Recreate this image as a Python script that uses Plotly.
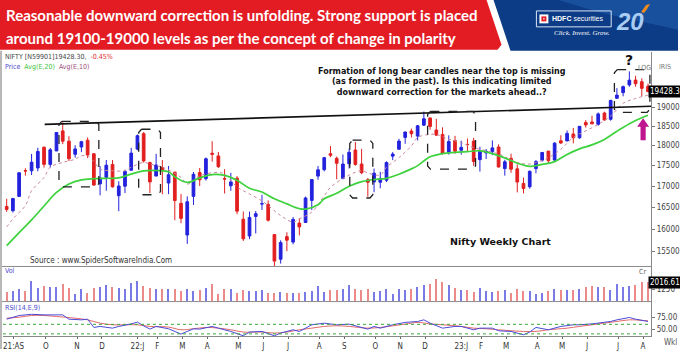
import math
import plotly.graph_objects as go

W, H = 680, 351


def px(x):
    return x / W


def py(y):
    return 1 - y / H


# ---------------- data (weekly Nifty) ----------------
OPEN = [16520, 16420, 16756, 17377, 17372, 17443, 17962, 17531, 17867, 18380,
        18116, 17783, 17967, 18140, 17796, 17055, 17209, 17528, 16773, 17000,
        17387, 17913, 18308, 17575, 17244, 17456, 17076, 17339, 16593, 15867,
        16757, 17329, 17181, 17809, 17741, 17183, 17009, 17193, 16227, 15845,
        16290, 16578, 16570, 15877, 15334, 15831, 15710, 16137, 16151, 16662,
        17243, 17401, 17797, 17682, 17188, 17546, 17890, 17540, 17156, 17102,
        17094, 17144, 17736, 17910, 18211, 18376, 18246, 18530, 18719, 18402,
        18288, 17830, 18131, 17885, 18033, 18118, 17649, 17818, 17847, 17966,
        17428, 17680, 17421, 17066, 16985, 17427, 17634, 17863, 17639, 18124,
        18121, 18300, 18201, 18600, 18612, 18550, 18849, 18682, 19246, 19400,
        19612, 19748, 19700, 19576]
HIGH = [16701, 16722, 17340, 17436, 17792, 17947, 17976, 17941, 18350, 18604,
        18242, 18012, 18123, 18210, 17805, 17489, 17640, 17639, 17118, 17400,
        17945, 18286, 18351, 17599, 17794, 17639, 17490, 17351, 16815, 16757,
        17344, 17442, 17703, 18114, 17842, 17414, 17322, 17244, 16404, 16400,
        16414, 16794, 16661, 15886, 15749, 15928, 16275, 16248, 16752, 17172,
        17490, 17719, 17992, 17726, 17777, 17925, 18096, 17919, 17196, 17428,
        17348, 17607, 17838, 18176, 18362, 18442, 18534, 18888, 18728, 18696,
        18473, 18265, 18251, 18127, 18183, 18201, 17972, 17916, 18134, 18035,
        17645, 17799, 17529, 17207, 17381, 17638, 17842, 17863, 18089, 18267,
        18389, 18458, 18508, 18662, 18777, 18864, 18886, 19201, 19523, 19595,
        19991, 19867, 19795, 19645]
LOW = [16395, 16380, 16750, 17254, 17270, 17361, 17452, 17452, 17865, 18040,
       17613, 17697, 17837, 17688, 17010, 16782, 16891, 16966, 16410, 16836,
       17383, 17885, 17576, 16836, 17244, 16809, 16810, 16203, 16133, 15671,
       16555, 17006, 17135, 17600, 17442, 16824, 16889, 16340, 15735, 15775,
       15903, 16438, 16172, 15183, 15240, 15511, 15661, 15858, 16143, 16438,
       17154, 17359, 17710, 17166, 17166, 17429, 17497, 17292, 16748, 16855,
       16950, 17098, 17637, 17899, 18048, 18210, 18133, 18511, 18410, 18255,
       17780, 17774, 17796, 17774, 17853, 17494, 17353, 17665, 17761, 17456,
       17255, 17324, 16851, 16828, 16940, 17313, 17598, 17553, 17612, 18042,
       18117, 18060, 18178, 18464, 18575, 18515, 18647, 18647, 19234, 19300,
       19562, 19563, 19296, 19413]
CLOSE = [16450, 16705, 17324, 17369, 17585, 17853, 17532, 17895, 18338, 18114,
         17671, 17917, 18102, 17764, 17026, 17197, 17511, 16985, 17003, 17354,
         17812, 18256, 17617, 17102, 17516, 17374, 17276, 16658, 16245, 16630,
         17287, 17153, 17670, 17784, 17475, 17172, 17103, 16411, 15782, 16266,
         16352, 16584, 16202, 15293, 15699, 15752, 16220, 16049, 16719, 17158,
         17397, 17698, 17758, 17558, 17539, 17833, 17531, 17327, 17094, 17315,
         17186, 17576, 17787, 18117, 18350, 18307, 18513, 18697, 18497, 18270,
         17807, 18105, 17860, 17957, 18027, 17604, 17854, 17856, 17944, 17466,
         17594, 17413, 17100, 16945, 17360, 17599, 17828, 17624, 18065, 18069,
         18315, 18203, 18499, 18534, 18563, 18826, 18666, 19189, 19332, 19565,
         19745, 19646, 19517, 19428.3]
VOLUME = [980, 1045, 1220, 1045, 2090, 1390, 1570, 1460, 1460, 1850,
          1390, 700, 1220, 870, 1390, 1460, 1740, 1460, 1390, 1320,
          1910, 2090, 1570, 1390, 1320, 1320, 1220, 1320, 1045, 1290,
          1110, 1150, 1390, 1850, 760, 1290, 1290, 870, 1150, 1110,
          1045, 1150, 870, 870, 940, 800, 800, 870, 940, 1045,
          1570, 940, 1150, 1150, 1220, 1670, 1220, 1150, 1220, 940,
          1110, 1220, 760, 1220, 1150, 1320, 1460, 1740, 1810, 2360,
          2020, 1670, 1390, 1150, 1150, 975, 1390, 1110, 940, 1045,
          1150, 870, 1220, 1045, 1045, 700, 800, 1045, 1320, 1150,
          1150, 1150, 1290, 1460, 1570, 1460, 1460, 1150, 1810, 1460,
          1630, 1740, 2020, 2016.61]

EMA20_IDX = [0, 2, 4, 6, 8, 10, 12, 14, 16, 18, 20, 22, 24, 26, 27, 29, 31, 33,
             35, 37, 39, 41, 43, 45, 47, 48, 50, 51, 53, 55, 57, 59, 61, 63, 65,
             66, 68, 70, 72, 74, 76, 78, 80, 82, 84, 86, 88, 90, 92, 94, 96, 98,
             99, 101, 103]
EMA20 = [15630, 15920, 16210, 16530, 16850, 17050, 17150, 17180, 17190, 17200,
         17290, 17370, 17380, 17350, 17230, 17090, 17200, 17280, 17260, 17140,
         16950, 16860, 16700, 16580, 16470, 16460, 16560, 16700, 16830, 17000,
         17110, 17160, 17190, 17290, 17420, 17500, 17720, 17800, 17830, 17850,
         17870, 17800, 17690, 17560, 17480, 17530, 17600, 17780, 17920, 18020,
         18160, 18370, 18470, 18650, 18790]

EMA10_IDX = [0, 1, 3, 4, 6, 7, 9, 11, 12, 13, 14, 15, 17, 19, 20, 22, 23, 25,
             28, 29, 31, 34, 35, 37, 39, 41, 42, 44, 46, 47, 49, 51, 52, 55, 57,
             58, 60, 61, 63, 65, 66, 68, 69, 71, 73, 75, 79, 82, 84, 87, 89, 91,
             93, 95, 97, 99, 101, 103]
EMA10 = [16050, 16233, 16540, 16890, 17210, 17460, 17580, 17660, 17745, 17745,
         17600, 17415, 17375, 17375, 17460, 17580, 17540, 17460, 17210, 17050,
         17250, 17335, 17290, 16980, 16815, 16650, 16540, 16310, 16160, 16233,
         16390, 16770, 16970, 17270, 17375, 17320, 17270, 17460, 17700, 17995,
         18210, 18290, 18290, 18165, 18080, 17950, 17790, 17580, 17540, 17700,
         17910, 18210, 18380, 18550, 18770, 19110, 19240, 19330]

RSI_IDX = [0, 2, 4, 6, 9, 10, 12, 13, 14, 15, 17, 18, 20, 21, 22, 23, 24, 26,
           28, 30, 31, 33, 34, 36, 38, 39, 41, 43, 44, 46, 47, 49, 51, 52, 53,
           55, 57, 58, 59, 60, 62, 64, 66, 67, 68, 70, 72, 73, 75, 76, 78, 79,
           81, 83, 84, 85, 87, 89, 91, 92, 94, 95, 97, 98, 100, 101, 103]
RSI = [70.8, 78.5, 81, 79.8, 79.8, 70.8, 69.4, 70.8, 53.5, 55.6, 52, 55.6, 61,
       64.6, 56.9, 50, 55.6, 50.7, 39.6, 50.7, 50, 55.6, 52, 45.1, 36, 43.8,
       45.1, 36, 41.7, 48.6, 45, 59, 62.5, 61, 59, 60.4, 53.5, 50, 55.6, 52,
       59, 64, 66, 69.4, 62.5, 52, 55.6, 55.6, 48.6, 52, 52, 46.5, 45.1, 38.1,
       43.8, 53.5, 48.6, 55.6, 59, 59, 61, 62.5, 66, 69.4, 74.4, 70.8, 66]

SIG_IDX = [0, 2, 4, 6, 8, 11, 13, 15, 17, 19, 21, 23, 26, 28, 30, 32, 34, 36,
           38, 41, 43, 45, 47, 49, 51, 53, 55, 58, 60, 62, 64, 66, 68, 70, 73,
           75, 77, 79, 81, 83, 85, 87, 90, 92, 94, 96, 98, 100, 103]
SIG = [72.9, 74.9, 78.5, 78.5, 76.4, 72.9, 69.4, 62.5, 59, 59, 59, 55.6, 54.2,
       48.6, 50.7, 53.5, 52, 48.6, 43.8, 43.8, 41.7, 43.8, 48.6, 52, 55.6, 57,
       55.6, 52, 53.5, 56.9, 60.4, 64, 61, 59, 55.6, 52, 50.7, 48.6, 46.5, 45.1,
       45.1, 48.6, 52, 55.6, 59, 62.5, 66, 69.4, 67.3]

TICK_IDX = [1.1, 6.3, 11.3, 15.3, 21.0, 24.2, 28.2, 32.2, 37.2, 41.2, 45.2,
            50.2, 54.2, 59.2, 63.2, 67.2, 73.0, 76.2, 80.2, 85.2, 89.2, 93.2,
            98.2, 102.2]
TICK_TEXT = ["21:AS", "O", "N", "D", "22:J", "F", "M", "A", "M", "J", "J", "A",
             "S", "O", "N", "D", "23:J", "F", "M", "A", "M", "J", "J", "A"]

PRICE_TICKS = [15500, 16000, 16500, 17000, 17500, 18000, 18500, 19000]

TREND_IDX = [6.1, 103.5]
TREND_VAL = [18550, 19030]

# dashed boxes: (first index, last index, low value, high value)
BOXES = [(8.4, 14.8, 16984, 18630),
         (21.2, 24.7, 16795, 18422),
         (55.1, 58.8, 16719, 18140),
         (67.6, 75.3, 17415, 18894),
         (97.6, 103.3, 18867, 20041)]

LAST_PRICE = 19428.3
LAST_VOL = 2016.61

# ---------------- figure ----------------
NARROW = "Liberation Sans Narrow, Arial Narrow, DejaVu Sans Condensed, Liberation Sans, Arial, sans-serif"
BOLDF = "DejaVu Sans, Verdana, sans-serif"
BLUE_C = "#2222dd"
RED_C = "#e21f1f"

N = len(CLOSE)
IDX = list(range(N))

fig = go.Figure()

fig.add_trace(go.Candlestick(
    x=IDX, open=OPEN, high=HIGH, low=LOW, close=CLOSE,
    increasing=dict(line=dict(color=BLUE_C, width=1), fillcolor=BLUE_C),
    decreasing=dict(line=dict(color=RED_C, width=1), fillcolor=RED_C),
    whiskerwidth=0, hoverinfo="skip", xaxis="x", yaxis="y"))

fig.add_trace(go.Scatter(x=EMA10_IDX, y=EMA10, mode="lines",
                         line=dict(color="#c9879c", width=1, dash="dot", shape="spline"),
                         hoverinfo="skip", yaxis="y"))
fig.add_trace(go.Scatter(x=EMA20_IDX, y=EMA20, mode="lines",
                         line=dict(color="#3dd23d", width=1.7, shape="spline"),
                         hoverinfo="skip", yaxis="y"))
fig.add_trace(go.Scatter(x=TREND_IDX, y=TREND_VAL, mode="lines",
                         line=dict(color="#111111", width=1.7),
                         hoverinfo="skip", yaxis="y"))

# dashed boxes with softened corners
for (a, b, lo, hi) in BOXES:
    dx = 0.45
    f = 1.0045
    bx = [a + dx, b - dx, b, b, b - dx, a + dx, a, a, a + dx]
    by = [hi, hi, hi / f, lo * f, lo, lo, lo * f, hi / f, hi]
    fig.add_trace(go.Scatter(x=bx, y=by, mode="lines",
                             line=dict(color="#222222", width=1.3, dash="dash"),
                             hoverinfo="skip", yaxis="y"))

vcolors = ["#7a7ae6" if c >= o else "#ec8a8a" for o, c in zip(OPEN, CLOSE)]
fig.add_trace(go.Bar(x=IDX, y=VOLUME, marker=dict(color=vcolors, line=dict(width=0)),
                     width=0.22, hoverinfo="skip", yaxis="y2"))

fig.add_trace(go.Scatter(x=SIG_IDX, y=SIG, mode="lines",
                         line=dict(color="#e06a6a", width=1, shape="spline"),
                         hoverinfo="skip", yaxis="y3"))
fig.add_trace(go.Scatter(x=RSI_IDX, y=RSI, mode="lines",
                         line=dict(color="#4a4ad8", width=1),
                         hoverinfo="skip", yaxis="y3"))

tickfont = dict(family=NARROW, size=8, color="#444")

fig.update_layout(
    width=W, height=H, autosize=False,
    margin=dict(l=0, r=0, t=0, b=0),
    paper_bgcolor="white", plot_bgcolor="white",
    showlegend=False, boxgap=0.38, bargap=0,
    xaxis=dict(domain=[px(3), px(653)], range=[-0.592, 103.49], anchor="y3",
               rangeslider=dict(visible=False), showgrid=False, zeroline=False,
               tickmode="array", tickvals=TICK_IDX, ticktext=TICK_TEXT,
               tickfont=dict(family=NARROW, size=8, color="#333"),
               ticks="outside", ticklen=2, tickcolor="#666",
               showline=True, linecolor="#888", linewidth=1),
    yaxis=dict(domain=[py(268), py(52)], type="log",
               range=[math.log10(15178), math.log10(20554)],
               side="right", anchor="x", showgrid=False, zeroline=False,
               tickmode="array", tickvals=PRICE_TICKS,
               ticktext=[str(v) for v in PRICE_TICKS],
               ticks="outside", ticklen=3, tickcolor="#777", tickfont=tickfont,
               showline=True, linecolor="#888", linewidth=1),
    yaxis2=dict(domain=[py(303.3), py(268)], range=[0, 3690], side="right",
                anchor="x", showgrid=False, zeroline=False,
                tickmode="array", tickvals=[1250], ticktext=["1250"],
                ticks="outside", ticklen=3, tickcolor="#777", tickfont=tickfont,
                showline=True, linecolor="#888", linewidth=1),
    yaxis3=dict(domain=[py(338), py(303.3)], range=[35.4, 107.7], side="right",
                anchor="x", showgrid=False, zeroline=False,
                tickmode="array", tickvals=[50, 75], ticktext=["50.00", "75.00"],
                ticks="outside", ticklen=3, tickcolor="#777", tickfont=tickfont,
                showline=True, linecolor="#888", linewidth=1),
)


def path(points, close=True):
    s = ""
    for k, (x, y) in enumerate(points):
        s += ("M" if k == 0 else "L") + f"{px(x):.5f},{py(y):.5f} "
    return s + ("Z" if close else "")


shapes = []
# banner
shapes.append(dict(type="path", xref="paper", yref="paper", layer="above",
                   path=path([(495, 0), (680, 0), (680, 51), (512, 51)]),
                   fillcolor="#0d3c86", line=dict(width=0)))
shapes.append(dict(type="path", xref="paper", yref="paper", layer="above",
                   path=path([(560, 0), (680, 0), (680, 30), (600, 12)]),
                   fillcolor="#1f58a8", line=dict(width=0), opacity=0.7))
shapes.append(dict(type="path", xref="paper", yref="paper", layer="above",
                   path=path([(0, 0), (488, 0), (503, 45), (499, 50), (0, 50)]),
                   fillcolor="#e31c24", line=dict(width=0)))
# logo
shapes.append(dict(type="rect", xref="paper", yref="paper", layer="above",
                   x0=px(538), x1=px(613), y0=py(27), y1=py(11),
                   line=dict(color="#d7e3f5", width=1), fillcolor="rgba(0,0,0,0)"))
shapes.append(dict(type="rect", xref="paper", yref="paper", layer="above",
                   x0=px(541), x1=px(550), y0=py(23.5), y1=py(14.5),
                   line=dict(width=0), fillcolor="#ffffff"))
shapes.append(dict(type="rect", xref="paper", yref="paper", layer="above",
                   x0=px(543), x1=px(548), y0=py(21.5), y1=py(16.5),
                   line=dict(width=0), fillcolor="#e31c24"))
shapes.append(dict(type="rect", xref="paper", yref="paper", layer="above",
                   x0=px(544.8), x1=px(546.2), y0=py(19.7), y1=py(18.3),
                   line=dict(width=0), fillcolor="#ffffff"))
# small flame mark on the "20" logo
shapes.append(dict(type="path", xref="paper", yref="paper", layer="above",
                   path=path([(643, 12), (648, 5), (652, 4), (649, 9), (646, 13)]),
                   fillcolor="#f08a1c", line=dict(width=0)))
# left frame
shapes.append(dict(type="line", xref="paper", yref="paper",
                   x0=px(1), x1=px(1), y0=py(351), y1=py(51),
                   line=dict(color="#b8b8b8", width=2)))
# panel separators
for yy in (268, 303.3):
    shapes.append(dict(type="line", xref="paper", yref="paper",
                       x0=px(2), x1=px(653), y0=py(yy), y1=py(yy),
                       line=dict(color="#8a8a8a", width=1)))
# RSI reference levels
for lv in (60, 40):
    shapes.append(dict(type="line", xref="paper", yref="y3",
                       x0=px(3), x1=px(653), y0=lv, y1=lv,
                       line=dict(color="#3aa83a", width=1, dash="dot")))
# magenta arrow
shapes.append(dict(type="path", xref="paper", yref="paper", layer="above",
                   path=path([(645, 119), (651, 127.5), (647.6, 127.5), (647.6, 141),
                              (642.4, 141), (642.4, 127.5), (639, 127.5)]),
                   fillcolor="#bf168f", line=dict(width=0)))
fig.update_layout(shapes=shapes)

ann = []


def note(x, y, text, size=8, color="#333", family=NARROW, xanchor="left",
         bold=False, **kw):
    if bold:
        text = f"<b>{text}</b>"
    ann.append(dict(x=px(x), y=py(y), xref="paper", yref="paper", text=text,
                    showarrow=False, xanchor=xanchor, yanchor="middle",
                    font=dict(size=size, color=color, family=family), **kw))


TITLE_F = "Lato, Roboto, sans-serif"
note(4, 15.5, "Reasonable downward correction is unfolding. Strong support is placed",
     size=15, color="white", family=TITLE_F, bold=True)
note(4, 38, "around 19100-19000 levels as per the concept of change in polarity",
     size=15, color="white", family=TITLE_F, bold=True)
note(552, 19, "<b>HDFC</b> securities", size=7, color="white",
     family="Liberation Sans, Arial, sans-serif")
note(584, 33.5, "<i>Click. Invest. Grow.</i>", size=7, color="white",
     family="Liberation Serif, Times New Roman, serif", xanchor="center")
note(632, 22, "<i>20</i>", size=24, color="#a9cdf2",
     family="Liberation Sans, Arial, sans-serif", xanchor="center", bold=True)

note(3, 57.5, "NIFTY [N59901]19428.30,  <span style='color:#e02a2a'>-0.45%</span>",
     size=7, color="#444")
note(3, 67.5, "<span style='color:#4b4bd0'>Price</span>  "
     "<span style='color:#3cc43c'>Avg(E,20)</span>  "
     "<span style='color:#9c4f7c'>Avg(E,10)</span>", size=7)
note(646, 68, "LOG", size=7, color="#777", xanchor="center")
note(667, 67, "IRIS", size=7, color="#777", xanchor="center")
note(631, 60.5, "?", size=14, color="#111", family=BOLDF, xanchor="center", bold=True)

note(443, 82, "Formation of long bear candles near the top is missing<br>"
     "(as formed in the past). Is this indicating limited<br>"
     "downward correction for the markets ahead..?",
     size=8, color="#111", family=BOLDF, xanchor="center", bold=True)
note(502, 243, "Nifty Weekly Chart", size=9.5, color="#111", family=BOLDF,
     xanchor="center", bold=True)
note(28, 262, "Source : www.SpiderSoftwareIndia.Com", size=8, color="#333")
note(3, 272.5, "Vol", size=7, color="#4b4bd0")
note(644, 274, "Cr", size=7, color="#666", xanchor="center")
note(3, 310, "RSI(14,E,9)", size=7, color="#4b4bd0")
note(672, 344, "Wkl", size=8, color="#555", xanchor="center")

ann.append(dict(x=px(666.5), y=math.log10(LAST_PRICE), xref="paper", yref="y",
                text=f"{LAST_PRICE:.1f}", showarrow=False, xanchor="center",
                yanchor="middle", bgcolor="#000000", borderpad=1,
                font=dict(size=8, color="white", family=NARROW)))
ann.append(dict(x=px(666.5), y=LAST_VOL, xref="paper", yref="y2",
                text=f"{LAST_VOL:.2f}", showarrow=False, xanchor="center",
                yanchor="middle", bgcolor="#000000", borderpad=1,
                font=dict(size=8, color="white", family=NARROW)))
fig.update_layout(annotations=ann)

fig.write_html("out.html")
